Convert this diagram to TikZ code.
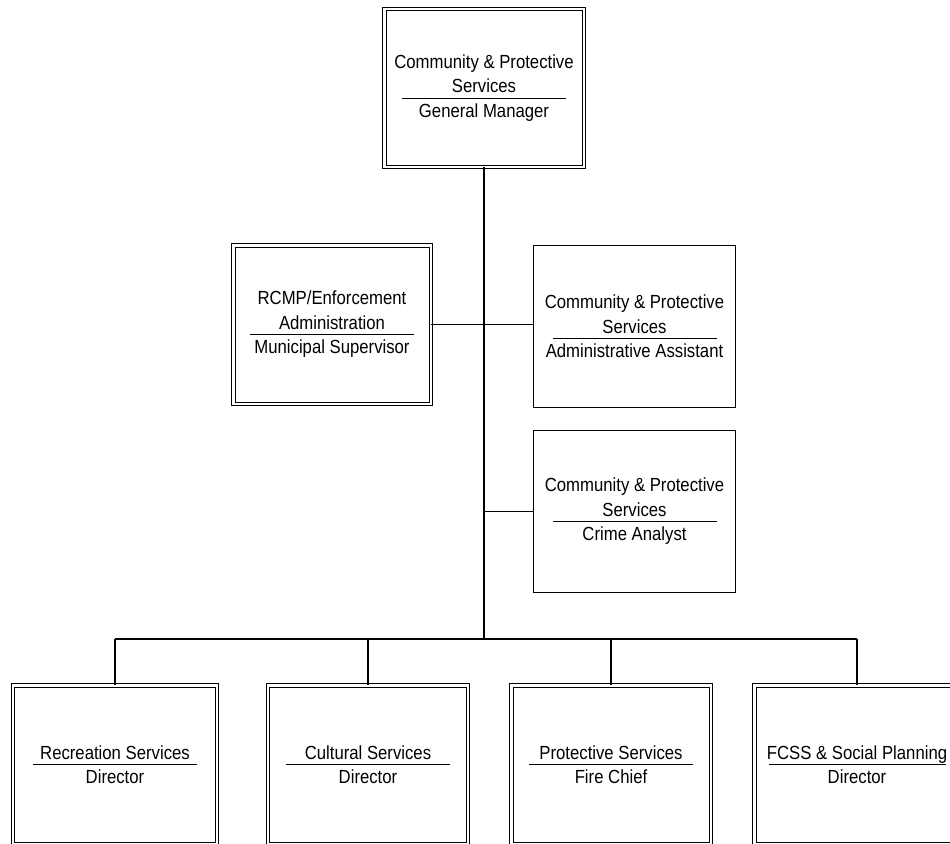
\documentclass[tikz,border=0pt]{standalone}
\usepackage{fontspec}
\setmainfont{Liberation Sans}[FakeStretch=0.88]

% Subtitle line with a centred rule drawn above it
\newsavebox\subtitlebox
\newcommand\ruled[2][164pt]{%
  \sbox\subtitlebox{#2}%
  \rlap{\hbox to \wd\subtitlebox{\hss\smash{\raisebox{19pt}{\rule{#1}{0.9pt}}}\hss}}%
  \usebox\subtitlebox}

\begin{document}
\begin{tikzpicture}[x=1pt,y=-1pt,
  posbox/.style={draw, line width=1.3pt, inner sep=0pt, outer sep=0pt,
    align=center, font=\fontsize{19}{24.5}\selectfont,
    minimum width=201.7pt, minimum height=161.7pt},
  mgrbox/.style={posbox, double, line width=1pt, double distance=2.5pt},
  trunk/.style={line width=1.9pt},
  link/.style={line width=1.3pt}]

\fill[white] (0,0) rectangle (950,843);
\useasboundingbox (0,0) rectangle (950,843);

% General manager
\node[mgrbox, minimum width=199.5pt, minimum height=157.5pt] (gm) at (484,88)
  {Community \& Protective\\Services\\\ruled{General Manager}};

% Staff positions beside the trunk
\node[mgrbox, minimum width=197.5pt, minimum height=158.5pt] (rcmp) at (332,324.5)
  {RCMP/Enforcement\\Administration\\\ruled{Municipal Supervisor}};
\node[posbox] (admin) at (634.5,326.5)
  {Community \& Protective\\Services\\\ruled{Administrative Assistant}};
\node[posbox] (crime) at (634.5,511.5)
  {Community \& Protective\\Services\\\ruled{Crime Analyst}};

% Directors
\node[mgrbox, minimum width=203.8pt, minimum height=158.5pt] (rec) at (115,764.5)
  {Recreation Services\\\ruled{Director}};
\node[mgrbox, minimum width=199.8pt, minimum height=158.5pt] (cult) at (368,764.5)
  {Cultural Services\\\ruled{Director}};
\node[mgrbox, minimum width=199.5pt, minimum height=158.5pt] (prot) at (611,764.5)
  {Protective Services\\\ruled{Fire Chief}};
\node[mgrbox, minimum width=205.5pt, minimum height=158.5pt] (fcss) at (857,764.5)
  {FCSS \& Social Planning\\\ruled[177pt]{Director}};

% Connectors
\coordinate (bus) at (484,639);
\draw[trunk] (gm.south) -- (bus);
\draw[link] (rcmp.east) -- (rcmp.east -| admin.west);
\draw[link] (crime.west -| bus) -- (crime.west);
\draw[trunk] (rec.north |- bus) -- (fcss.north |- bus);
\foreach \d in {rec,cult,prot,fcss}
  \draw[link] (\d.north |- bus) -- (\d.north);

\end{tikzpicture}
\end{document}
